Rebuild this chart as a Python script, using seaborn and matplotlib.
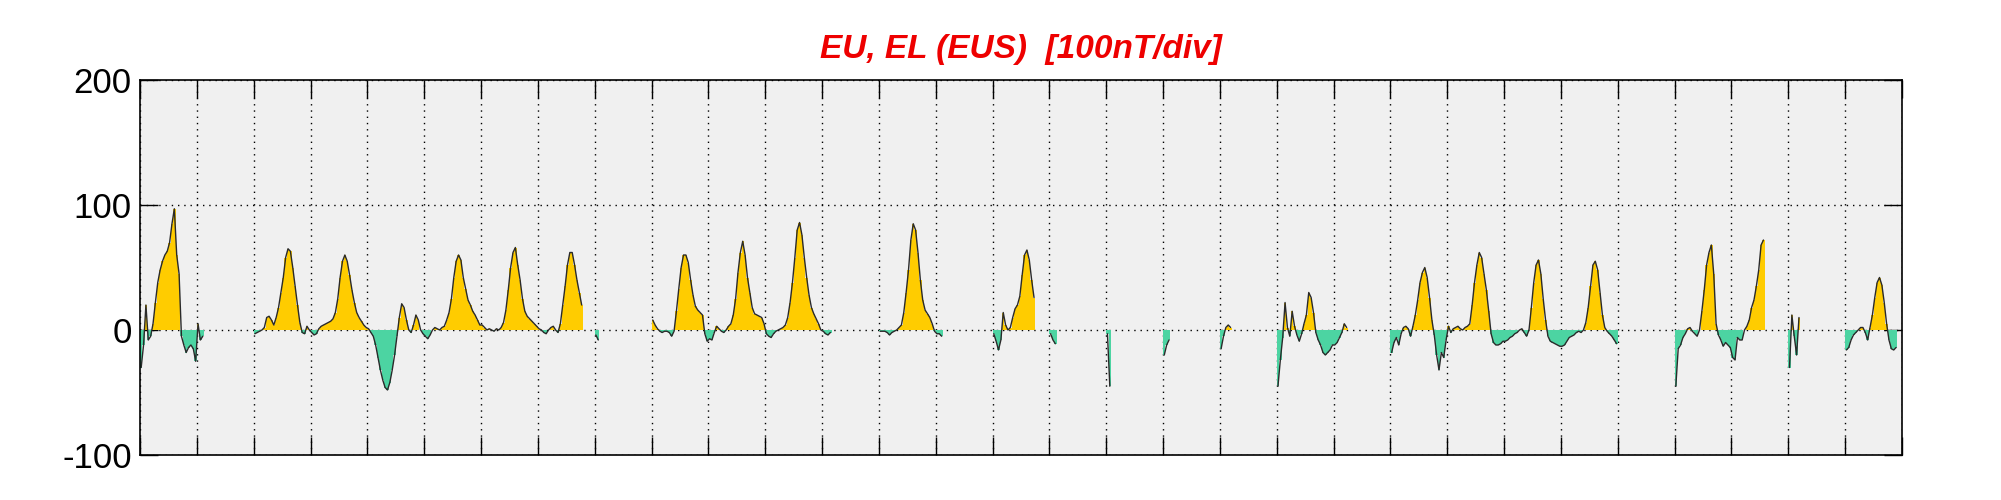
import numpy as np
import pandas as pd
import matplotlib
matplotlib.use("Agg")
import matplotlib.pyplot as plt
import seaborn as sns

# ---- hourly EU/EL (EUS) values, one list per day (nT); missing hours omitted at the end ----
d01 = [-30, -12, 20, -8, -5, 5, 22, 38, 48, 55, 60, 63, 70, 85, 97, 60, 45, -5, -12, -18, -14, -12, -15, -25]
d02 = [5, -8, -5]
d03 = [-3, -2, -1, 0, 2, 10, 11, 8, 4, 10, 18, 30, 42, 58, 65, 63, 50, 35, 20, 6, -2, -3, 3, 0]
d04 = [-2, -4, -3, 1, 3, 4, 5, 6, 7, 9, 14, 25, 42, 55, 60, 55, 44, 32, 22, 14, 10, 7, 4, 2]
d05 = [1, -2, -5, -12, -22, -32, -40, -46, -48, -42, -32, -20, -5, 10, 21, 18, 8, 0, -2, 4, 12, 8, 0, -3]
d06 = [-5, -7, -4, 0, 2, 1, 0, 2, 3, 8, 14, 25, 42, 55, 60, 56, 42, 33, 24, 20, 15, 12, 8, 4]
d07 = [4, 2, 0, 1, 0, -1, 1, 0, 2, 6, 16, 32, 50, 62, 66, 52, 40, 25, 15, 11, 9, 7, 5, 3]
d08 = [1, 0, -2, -3, 0, 2, 3, 0, -2, 5, 20, 35, 52, 62, 62, 52, 40, 30, 20]
d09 = [-4, -8]
d10 = [8, 4, 1, -1, -2, -1, -1, -2, -5, -1, 15, 33, 50, 60, 60, 54, 40, 28, 19, 16, 14, 12, -3, -9]
d11 = [-7, -8, -2, 3, 1, -1, -2, 0, 3, 5, 12, 25, 46, 62, 71, 60, 42, 30, 18, 13, 12, 11, 10, 5]
d12 = [-3, -5, -6, -3, -1, 0, 1, 2, 4, 10, 22, 38, 58, 80, 86, 76, 58, 42, 28, 18, 13, 9, 5, 0]
d13 = [-1, -3, -4, -2]
d14 = [-1, -1, -1, -2, -4, -2, -1, 0, 2, 4, 14, 30, 48, 72, 85, 80, 62, 40, 24, 16, 13, 10, 5, -1]
d15 = [-3, -3, -5]
d16 = [-3, -9, -16, -8, 14, 4, 0, 2, 10, 17, 20, 27, 44, 60, 64, 56, 40, 26]
d17 = [-3, -8, -11]
d18 = [-3, -45]
d19 = [-20, -12, -8]
d20 = [-15, -5, 2, 4, 2]
d21 = [-45, -24, -6, 22, 2, -5, 15, 3, -4, -9, -3, 5, 12, 30, 26, 14, -2, -8, -12, -18, -20, -18, -16, -12]
d22 = [-12, -10, -6, -2, 5, 2]
d23 = [-18, -10, -6, -12, -3, 2, 3, 1, -5, 3, 12, 24, 38, 46, 50, 42, 26, 8, -4, -20, -32, -18, -22, -8]
d24 = [3, -2, 1, 2, 3, 1, 0, 2, 3, 5, 20, 38, 52, 62, 58, 45, 32, 15, -3, -10, -12, -12, -11, -9]
d25 = [-9, -8, -6, -5, -3, -2, 0, 1, -2, -5, 0, 18, 38, 52, 56, 45, 25, 8, -5, -9, -10, -11, -12, -13]
d26 = [-13, -12, -9, -6, -5, -4, -2, -1, -2, 0, 6, 18, 35, 52, 55, 48, 30, 12, 2, -1, -3, -5, -8, -11]
d27 = []
d28 = [-45, -15, -12, -6, -3, 1, 2, -1, -3, -5, 0, 15, 32, 52, 62, 68, 45, 5, -4, -8, -13, -10, -12, -14]
d29 = [-22, -24, -6, -8, -8, 0, 3, 8, 18, 24, 35, 48, 68, 72]
d30 = [-30, 12, -5, -20, 10]
d31 = [-16, -14, -8, -4, -2, 0, 2, 2, -2, -8, 2, 12, 26, 38, 42, 36, 22, 5, -8, -15, -16, -14]

days = [d01, d02, d03, d04, d05, d06, d07, d08, d09, d10, d11, d12, d13, d14, d15, d16,
        d17, d18, d19, d20, d21, d22, d23, d24, d25, d26, d27, d28, d29, d30, d31]
y_ticks = [-100, 0, 100, 200]
title_text = "EU, EL (EUS)  [100nT/div]"

# ---- assemble hourly series ----
vals = []
for d in days:
    vals.extend(list(d) + [np.nan] * (24 - len(d)))
vals = np.array(vals, dtype=float)
t = (np.arange(len(vals)) + 0.5) / 24.0
df = pd.DataFrame({"t": t, "v": vals})
df["seg"] = df["v"].isna().cumsum()
df_ok = df.dropna().copy()
df_ok["sign"] = np.where(df_ok["v"] >= 0, "pos", "neg")

# ---- style ----
sns.set_theme(style="ticks")
plt.rcParams["font.family"] = ["Liberation Sans", "DejaVu Sans"]

fig = plt.figure(figsize=(20.01, 5.0), dpi=100)
ax = fig.add_axes([140 / 2001, 45 / 500, 1762 / 2001, 375 / 500])
ax.set_facecolor("#f0f0f0")

yellow = "#FFCC00"
teal = "#4CD4A2"

sns.barplot(data=df_ok, x="t", y="v", hue="sign", palette={"pos": yellow, "neg": teal},
            native_scale=True, dodge=False, errorbar=None, width=1.0, linewidth=0,
            saturation=1, legend=False, ax=ax)

sns.lineplot(data=df_ok, x="t", y="v", units="seg", estimator=None, color="#2a2a2a",
             linewidth=1.0, ax=ax, sort=False)

ax.set_xlim(0, 31)
ax.set_ylim(-100, 200)
ax.set_xticks(np.arange(0, 32))
ax.set_yticks(y_ticks)
ax.set_yticklabels([str(v) for v in y_ticks], fontsize=25)
ax.set_xlabel("")
ax.set_ylabel("")
ax.tick_params(axis="x", direction="in", length=13, width=1, top=True, bottom=True,
               labelbottom=False, colors="black")
ax.tick_params(axis="y", direction="in", length=13, width=1, left=True, right=True,
               pad=6, colors="black")
ax.set_axisbelow(True)
ax.grid(True, color="black", linestyle=(0, (1, 3.5)), linewidth=1.0)
for s in ax.spines.values():
    s.set_color("black")
    s.set_linewidth(1.2)
    s.set_visible(True)

ax.set_title(title_text, color="#ee0000", fontsize=24, fontweight="bold",
             fontstyle="italic", pad=16)

fig.savefig("out.png", dpi=100, facecolor="white")
